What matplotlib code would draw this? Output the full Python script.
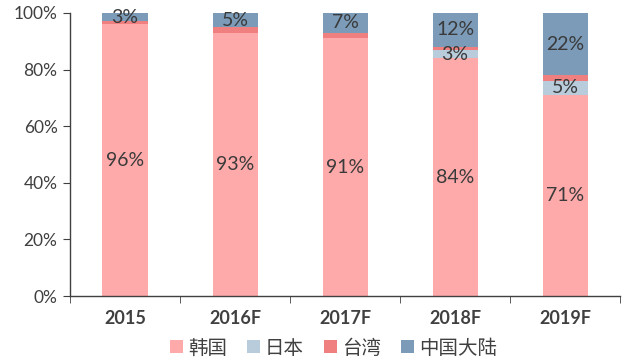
import numpy as np
import matplotlib.pyplot as plt

# data (share of capacity, %)
years = ['2015', '2016F', '2017F', '2018F', '2019F']
korea = [96, 93, 91, 84, 71]
japan = [0, 0, 0, 3, 5]
taiwan = [1, 2, 2, 1, 2]
china = [3, 5, 7, 12, 22]
series_names = ['韩国', '日本', '台湾', '中国大陆']

colors = ['#FFAAAA', '#B8CCDC', '#F08080', '#7B9BB8']
txt = '#404040'

plt.rcParams['font.family'] = ['Lato', 'Noto Sans CJK SC', 'DejaVu Sans']

fig = plt.figure(figsize=(6.23, 3.62), dpi=100)
ax = fig.add_axes([0.1124, 0.1823, 0.883, 0.7818])

x = np.arange(len(years))
w = 0.41
series = [korea, japan, taiwan, china]
bottom = np.zeros(len(years))
bars = []
for vals, col, name in zip(series, colors, series_names):
    b = ax.bar(x, vals, w, bottom=bottom, color=col, label=name, zorder=2)
    bars.append((b, vals, bottom.copy()))
    bottom += np.array(vals)

# labels: korea, japan (non-zero), china
for idx in (0, 1, 3):
    b, vals, bot = bars[idx]
    for xi, v, b0 in zip(x, vals, bot):
        if v == 0:
            continue
        ax.text(xi, b0 + v / 2, f'{v}%', ha='center', va='center',
                fontsize=14, color='#3a3a3a')

ax.set_xlim(-0.5, len(years) - 0.5)
ax.set_ylim(0, 100)
ax.set_yticks(np.arange(0, 101, 20))
ax.set_yticklabels([f'{v}%' for v in range(0, 101, 20)], fontsize=12.5, color=txt)
ax.set_xticks(x)
ax.set_xticklabels(years, fontsize=13, fontweight='bold', color=txt)
ax.set_xticks(np.arange(-0.5, len(years)), minor=True)
ax.tick_params(axis='x', which='major', length=0, pad=10)
ax.tick_params(axis='x', which='minor', length=5, color='#404040')
ax.tick_params(axis='y', length=5, color='#404040', pad=4)

for s in ('top', 'right'):
    ax.spines[s].set_visible(False)
for s in ('left', 'bottom'):
    ax.spines[s].set_color('#404040')
    ax.spines[s].set_linewidth(1)

leg = ax.legend(loc='center', bbox_to_anchor=(0.479, -0.184), ncol=4, frameon=False,
                prop={'family': ['Noto Sans CJK SC'], 'size': 14},
                handlelength=0.67, handleheight=0.67, handletextpad=0.26,
                columnspacing=1.03, borderpad=0)
for t in leg.get_texts():
    t.set_color(txt)

fig.savefig('out.png', dpi=100)
